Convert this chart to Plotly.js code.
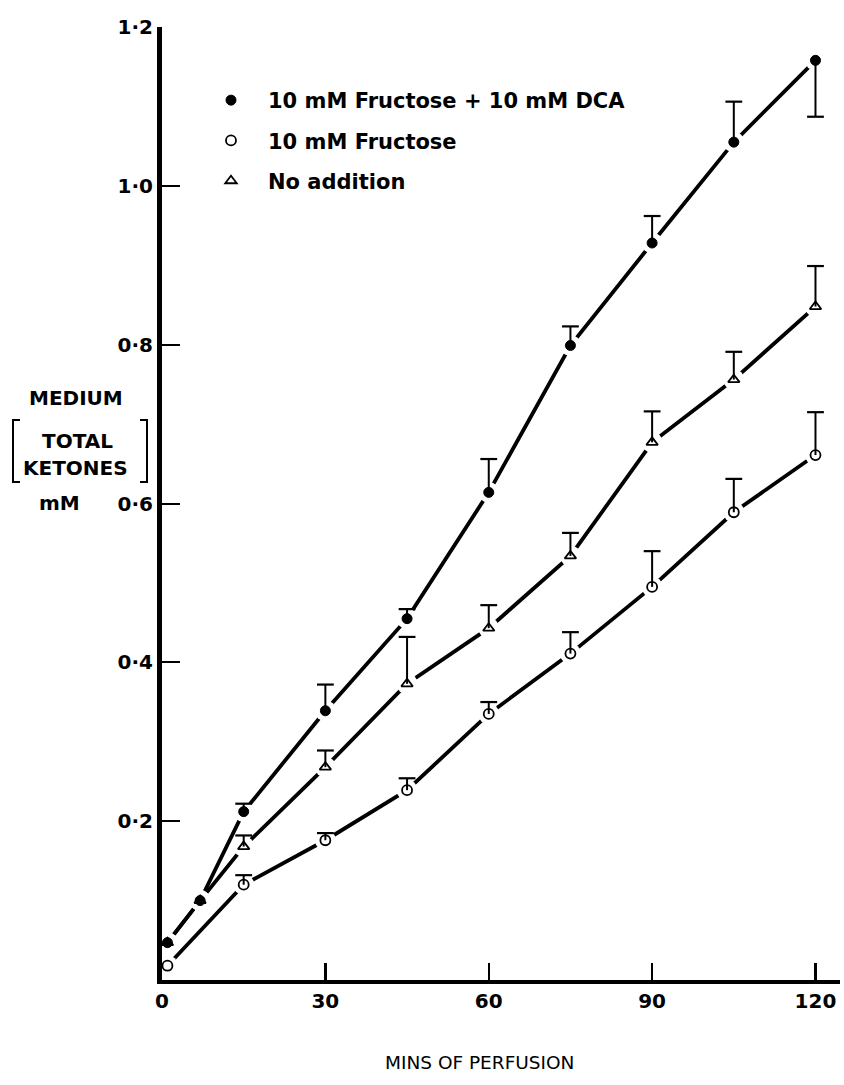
<!DOCTYPE html>
<html>
<head>
<meta charset="utf-8">
<script src="https://cdn.plot.ly/plotly-3.0.1.min.js"></script>
<style>
  html, body { margin: 0; padding: 0; background: #fff; }
  #chart { width: 844px; height: 1085px; }
</style>
</head>
<body>
<div id="chart"></div>
<script>
// ---------- data ----------
const seriesNames = ["10 mM Fructose + 10 mM DCA", "10 mM Fructose", "No addition"];

const timesDCA = [1, 7, 15, 30, 45, 60, 75, 90, 105, 120];
const ketonesDCA = [0.047, 0.100, 0.212, 0.339, 0.455, 0.614, 0.799, 0.928, 1.055, 1.158];
const errUpDCA = [null, null, 0.010, 0.033, 0.012, 0.042, 0.024, 0.034, 0.051, null];
const errDownDCA = [null, null, null, null, null, null, null, null, null, 0.071];

const timesFru = [1, 15, 30, 45, 60, 75, 90, 105, 120];
const ketonesFru = [0.018, 0.120, 0.176, 0.239, 0.335, 0.411, 0.495, 0.589, 0.661];
const errUpFru = [null, 0.012, 0.009, 0.015, 0.015, 0.027, 0.045, 0.042, 0.054];

const timesNone = [1, 7, 15, 30, 45, 60, 75, 90, 105, 120];
const ketonesNone = [0.047, 0.100, 0.168, 0.268, 0.373, 0.443, 0.534, 0.677, 0.756, 0.848];
const errUpNone = [null, null, 0.014, 0.021, 0.059, 0.029, 0.029, 0.039, 0.035, 0.051];

const xTickVals = [0, 30, 60, 90, 120];
const xTickText = ["0", "30", "60", "90", "120"];
const yTickVals = [0.2, 0.4, 0.6, 0.8, 1.0, 1.2];
const yTickText = ["0·2", "0·4", "0·6", "0·8", "1·0", "1·2"];

// ---------- helpers ----------
const W = 844, H = 1085;
const M = { l: 162, r: 4, t: 27, b: 105 };
const plotW = W - M.l - M.r, plotH = H - M.t - M.b;
const px = p => (p - M.l) / plotW;          // pixel x -> paper x
const py = p => (H - M.b - p) / plotH;      // pixel y -> paper y
const num = v => (v === null || v === undefined) ? NaN : v;

const FONT = "DejaVu Sans, Liberation Sans, Arial, sans-serif";

const series = [
  { name: seriesNames[0], x: timesDCA, y: ketonesDCA, up: errUpDCA, down: errDownDCA,
    marker: { symbol: "circle", size: 10, color: "black", line: { color: "black", width: 1 } } },
  { name: seriesNames[1], x: timesFru, y: ketonesFru, up: errUpFru, down: null,
    marker: { symbol: "circle-open", size: 10, color: "black", line: { color: "black", width: 1.8 } } },
  { name: seriesNames[2], x: timesNone, y: ketonesNone, up: errUpNone, down: null,
    marker: { symbol: "triangle-up-open", size: 10, color: "black", line: { color: "black", width: 1.8 } } }
];

const traces = [];
// connecting lines
series.forEach(s => traces.push({
  type: "scatter", mode: "lines", x: s.x, y: s.y, showlegend: false, hoverinfo: "skip",
  line: { color: "black", width: 3.8 }, cliponaxis: false
}));
// white gaps around the points (lines stop short of markers)
series.forEach(s => traces.push({
  type: "scatter", mode: "markers", x: s.x, y: s.y, showlegend: false, hoverinfo: "skip",
  marker: { symbol: "circle", size: 21, color: "white", line: { width: 0 } }, cliponaxis: false
}));
// error bar stems (no caps) + caps as markers
series.forEach(s => {
  const up = s.up.map(num);
  const down = s.down ? s.down.map(num) : s.up.map(() => NaN);
  traces.push({
    type: "scatter", mode: "markers", x: s.x, y: s.y, showlegend: false, hoverinfo: "skip",
    marker: { size: 1, color: "rgba(0,0,0,0)" }, cliponaxis: false,
    error_y: { type: "data", symmetric: false, array: up, arrayminus: down,
               color: "black", thickness: 2, width: 0 }
  });
  const capX = [], capY = [];
  s.x.forEach((t, i) => {
    if (!isNaN(up[i])) { capX.push(t); capY.push(s.y[i] + up[i]); }
    if (!isNaN(down[i])) { capX.push(t); capY.push(s.y[i] - down[i]); }
  });
  traces.push({
    type: "scatter", mode: "markers", x: capX, y: capY, showlegend: false, hoverinfo: "skip",
    marker: { symbol: "line-ew-open", size: 12, color: "black", line: { color: "black", width: 2.2 } },
    cliponaxis: false
  });
});
// data markers (with legend)
series.forEach((s, i) => traces.push({
  type: "scatter", mode: "markers", name: s.name, x: s.x, y: s.y,
  legendgroup: "g" + i, marker: s.marker, cliponaxis: false
}));

const layout = {
  width: W, height: H,
  margin: { l: M.l, r: M.r, t: M.t, b: M.b, pad: 0 },
  paper_bgcolor: "white", plot_bgcolor: "white",
  font: { family: FONT, color: "black" },
  showlegend: true,
  legend: {
    x: px(194), y: py(80), xanchor: "left", yanchor: "top",
    bgcolor: "rgba(0,0,0,0)", borderwidth: 0,
    font: { family: FONT, size: 21, weight: "bold", color: "black" },
    traceorder: "grouped", tracegroupgap: 10, itemwidth: 64
  },
  xaxis: {
    range: [0, 124.5], showgrid: false, zeroline: false,
    showline: true, linecolor: "black", linewidth: 4,
    ticks: "inside", ticklen: 17, tickwidth: 2.5, tickcolor: "black",
    tickvals: xTickVals, ticktext: xTickText,
    tickfont: { family: FONT, size: 20, weight: "bold", color: "black" }
  },
  yaxis: {
    range: [0, 1.2], showgrid: false, zeroline: false,
    showline: true, linecolor: "black", linewidth: 5,
    ticks: "inside", ticklen: 18, tickwidth: 2, tickcolor: "black",
    tickvals: yTickVals, ticktext: yTickText,
    tickfont: { family: FONT, size: 20, weight: "bold", color: "black" }
  },
  annotations: [
    { text: "MINS OF PERFUSION", xref: "paper", yref: "paper", x: px(479), y: py(1062),
      xanchor: "center", yanchor: "middle", showarrow: false,
      font: { family: FONT, size: 18.5, color: "black" } },
    { text: "MEDIUM", xref: "paper", yref: "paper", x: px(76), y: py(398),
      xanchor: "center", yanchor: "middle", showarrow: false,
      font: { family: FONT, size: 20, weight: "bold", color: "black" } },
    { text: "TOTAL", xref: "paper", yref: "paper", x: px(77), y: py(441),
      xanchor: "center", yanchor: "middle", showarrow: false,
      font: { family: FONT, size: 20, weight: "bold", color: "black" } },
    { text: "KETONES", xref: "paper", yref: "paper", x: px(76), y: py(468),
      xanchor: "center", yanchor: "middle", showarrow: false,
      font: { family: FONT, size: 20, weight: "bold", color: "black" } },
    { text: "mM", xref: "paper", yref: "paper", x: px(60), y: py(503),
      xanchor: "center", yanchor: "middle", showarrow: false,
      font: { family: FONT, size: 20, weight: "bold", color: "black" } }
  ],
  shapes: [
    { type: "path", xref: "paper", yref: "paper",
      path: `M ${px(20)} ${py(420)} L ${px(13)} ${py(420)} L ${px(13)} ${py(482)} L ${px(20)} ${py(482)}`,
      line: { color: "black", width: 2 } },
    { type: "path", xref: "paper", yref: "paper",
      path: `M ${px(140)} ${py(420)} L ${px(147)} ${py(420)} L ${px(147)} ${py(482)} L ${px(140)} ${py(482)}`,
      line: { color: "black", width: 2 } }
  ]
};

Plotly.newPlot("chart", traces, layout, { staticPlot: true, displayModeBar: false });
</script>
</body>
</html>
